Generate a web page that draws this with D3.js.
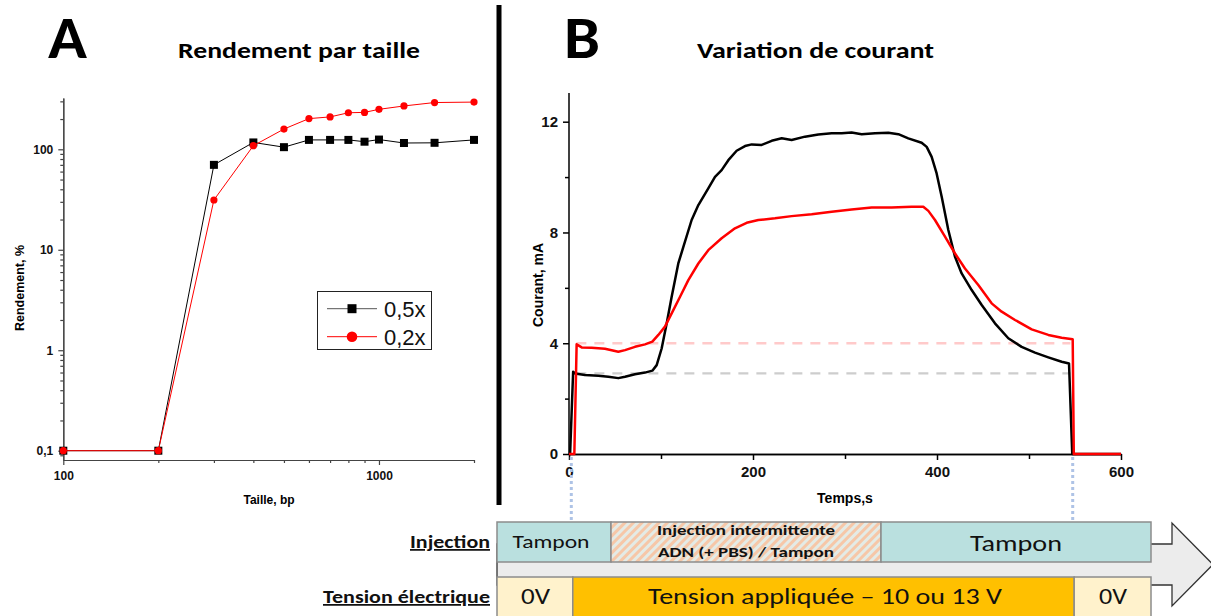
<!DOCTYPE html>
<html>
<head>
<meta charset="utf-8">
<script src="https://cdn.jsdelivr.net/npm/d3@7"></script>
<style>
  body { margin: 0; background: #fff; }
  svg { display: block; }
</style>
</head>
<body>
<svg id="fig" width="1211" height="616"></svg>
<script>
// ---------- Panel A : yield vs fragment size ----------
const sizesBp   = [100, 200, 300, 400, 500, 600, 700, 800, 900, 1000, 1200, 1500, 2000];
const yield05x  = [0.1, 0.1, 70, 117, 105, 124, 124, 124, 119, 125, 115.5, 116, 124];
const yield02x  = [0.1, 0.1, 31.3, 108.6, 159, 202, 210, 231, 233, 250, 270, 292, 295];
const seriesNames = ["0,5x", "0,2x"];
const yTickValsA   = [0.1, 1, 10, 100];
const yTickLabelsA = ["0,1", "1", "10", "100"];
const xTickValsA   = [100, 1000];

// ---------- Panel B : current over time ----------
const timeBlack = [0, 1.2, 4.5, 6.5, 17.4, 31.9, 42.8, 53.6, 60.9, 71.7, 82.6, 90.6, 95.3, 100.7, 106.2,
  111.6, 118.8, 124.3, 133.3, 140.6, 151.4, 158.7, 165.9, 173.2, 182.2, 191.3, 198.6, 209.4, 220.3, 231.2,
  242, 256.5, 271, 285.5, 296.4, 307.2, 318.1, 332.6, 347.1, 358, 368.8, 383.3, 388.8, 394.2, 399.6, 405.1,
  412.3, 419.6, 426.8, 437.7, 448.6, 463, 477.5, 492, 506.5, 521, 535.5, 543.5, 547, 600];
const currentBlack = [0, 0, 2.97, 2.91, 2.85, 2.83, 2.79, 2.74, 2.79, 2.88, 2.94, 3.01, 3.21, 3.81, 4.72,
  5.68, 6.88, 7.48, 8.45, 8.99, 9.59, 10.01, 10.25, 10.61, 10.95, 11.12, 11.18, 11.16, 11.31, 11.4,
  11.34, 11.46, 11.54, 11.58, 11.58, 11.61, 11.55, 11.58, 11.6, 11.55, 11.4, 11.24, 11.09, 10.73, 10.13, 9.29,
  8.09, 7.12, 6.52, 5.92, 5.38, 4.72, 4.18, 3.87, 3.66, 3.49, 3.33, 3.27, 0, 0];
const timeRed = [0, 5.8, 8.3, 13.8, 24.6, 39.1, 53.6, 60.9, 71.7, 82.6, 90.6, 97.1, 104.3, 111.6, 120.7,
  129.7, 140.6, 151.4, 165.9, 180.4, 193.1, 205.8, 223.9, 242, 263.8, 285.5, 307.2, 329, 350.7, 372.5,
  385.1, 390.6, 397.8, 408.7, 419.6, 430.4, 444.9, 459.4, 470.3, 484.8, 502.9, 521, 535.5, 547.5, 548.7, 600];
const currentRed = [0, 0, 3.96, 3.85, 3.84, 3.8, 3.69, 3.75, 3.87, 3.96, 4.06, 4.3, 4.6, 5.08, 5.68,
  6.28, 6.88, 7.36, 7.79, 8.15, 8.35, 8.45, 8.51, 8.59, 8.66, 8.75, 8.83, 8.9, 8.9, 8.93,
  8.93, 8.78, 8.45, 7.85, 7.24, 6.7, 6.1, 5.44, 5.14, 4.84, 4.5, 4.3, 4.2, 4.14, 0, 0];
const baselineCurrent = [2.91, 4.0];      // black / red reference levels
const baselineSpan    = [8, 545];         // s
const voltageWindow   = [2.5, 547.5];     // s, voltage on / off
const xTickValsB = [0, 200, 400, 600];
const yTickValsB = [0, 4, 8, 12];

// ---------- Timeline ----------
const rowLabels        = ["Injection", "Tension électrique"];
const injectionLabels  = ["Tampon", "Injection intermittente|ADN (+ PBS) / Tampon", "Tampon"];
const tensionLabels    = ["0V", "Tension appliquée – 10 ou 13 V", "0V"];

const svg = d3.select("#fig");
const arial = "'Liberation Sans', Arial, sans-serif";
const calibri = "Carlito, Lato, 'Open Sans', sans-serif";

// hatch pattern for the intermittent-injection block
const defs = svg.append("defs");
const pat = defs.append("pattern").attr("id", "hatch").attr("patternUnits", "userSpaceOnUse")
  .attr("width", 6).attr("height", 6).attr("patternTransform", "rotate(45)");
pat.append("rect").attr("width", 6).attr("height", 6).attr("fill", "#e4ebe6");
pat.append("rect").attr("width", 3).attr("height", 6).attr("fill", "#f6c7a8");

// ---------- Titles & separator ----------
function fitText(sel, len) { return sel.attr("textLength", len).attr("lengthAdjust", "spacingAndGlyphs"); }

fitText(svg.append("text").attr("x", 48).attr("y", 58).attr("font-family", calibri)
  .attr("font-weight", 700).attr("font-size", 60).text("A"), 39);
fitText(svg.append("text").attr("x", 178).attr("y", 58).attr("font-family", calibri)
  .attr("font-weight", 700).attr("font-size", 22).text("Rendement par taille"), 242);
fitText(svg.append("text").attr("x", 564).attr("y", 58).attr("font-family", calibri)
  .attr("font-weight", 700).attr("font-size", 60).text("B"), 36);
fitText(svg.append("text").attr("x", 697).attr("y", 58).attr("font-family", calibri)
  .attr("font-weight", 700).attr("font-size", 22).text("Variation de courant"), 237);

svg.append("line").attr("x1", 499).attr("x2", 499).attr("y1", 5).attr("y2", 505)
  .attr("stroke", "#000").attr("stroke-width", 5);

// ---------- Panel A ----------
const xA = d3.scaleLog().domain([100, 2000]).range([63.3, 474]);
const yA = d3.scaleLog().domain([0.0808, 324]).range([460, 98]);
const gA = svg.append("g");

const minorY = [];
for (const dec of [0.01, 0.1, 1, 10, 100]) for (let k = 2; k <= 9; k++) {
  const v = dec * k; if (v >= 0.0808 && v <= 324) minorY.push(v);
}
const minorX = [];
for (const dec of [100, 1000]) for (let k = 2; k <= 9; k++) {
  const v = dec * k; if (v <= 2000) minorX.push(v);
}

function styleAxis(g, color, width, fs) {
  g.selectAll("path, line").attr("stroke", color).attr("stroke-width", width);
  g.selectAll("text").attr("font-family", arial).attr("font-weight", 700)
    .attr("font-size", fs).attr("fill", "#111");
}

gA.append("g").attr("transform", "translate(63.3,0)")
  .call(d3.axisLeft(yA).tickValues(minorY).tickSize(3).tickSizeOuter(0).tickFormat(""))
  .call(g => styleAxis(g, "#444", 1.2, 12));
gA.append("g").attr("transform", "translate(63.3,0)")
  .call(d3.axisLeft(yA).tickValues(yTickValsA).tickSize(5).tickSizeOuter(0).tickPadding(5)
    .tickFormat((d, i) => yTickLabelsA[i]))
  .call(g => styleAxis(g, "#444", 1.2, 12));
gA.append("g").attr("transform", "translate(0,460)")
  .call(d3.axisBottom(xA).tickValues(minorX).tickSize(3).tickSizeOuter(0).tickFormat(""))
  .call(g => styleAxis(g, "#444", 1.2, 12));
gA.append("g").attr("transform", "translate(0,460)")
  .call(d3.axisBottom(xA).tickValues(xTickValsA).tickSize(5).tickSizeOuter(0).tickPadding(6)
    .tickFormat(d3.format("d")))
  .call(g => styleAxis(g, "#444", 1.2, 12));

gA.append("text").attr("x", 269).attr("y", 504).attr("text-anchor", "middle")
  .attr("font-family", arial).attr("font-weight", 700).attr("font-size", 12).text("Taille, bp");
gA.append("text").attr("transform", "translate(24,288) rotate(-90)").attr("text-anchor", "middle")
  .attr("font-family", arial).attr("font-weight", 700).attr("font-size", 12.5).text("Rendement, %");

const lineA = d3.line().x(d => xA(d[0])).y(d => yA(d[1]));
const blackPts = sizesBp.map((s, i) => [s, yield05x[i]]);
const redPts   = sizesBp.map((s, i) => [s, yield02x[i]]);

gA.append("path").datum(blackPts).attr("d", lineA).attr("fill", "none").attr("stroke", "#000").attr("stroke-width", 1);
gA.selectAll(".sq").data(blackPts).enter().append("rect")
  .attr("x", d => xA(d[0]) - 4).attr("y", d => yA(d[1]) - 4).attr("width", 8).attr("height", 8).attr("fill", "#000");
gA.append("path").datum(redPts).attr("d", lineA).attr("fill", "none").attr("stroke", "#ff0000").attr("stroke-width", 1);
gA.selectAll(".dot").data(redPts).enter().append("circle")
  .attr("cx", d => xA(d[0])).attr("cy", d => yA(d[1])).attr("r", 3.6).attr("fill", "#ff0000");

// legend
const leg = gA.append("g");
leg.append("rect").attr("x", 317.5).attr("y", 291.5).attr("width", 114).attr("height", 58)
  .attr("fill", "#fff").attr("stroke", "#222").attr("stroke-width", 1);
[["#000", "sq"], ["#ff0000", "dot"]].forEach(([c, m], i) => {
  const cy = 308.7 + i * 28;
  leg.append("line").attr("x1", 327).attr("x2", 377).attr("y1", cy).attr("y2", cy)
    .attr("stroke", i === 0 ? "#555" : "#ff0000").attr("stroke-width", 1);
  if (m === "sq") leg.append("rect").attr("x", 347.5).attr("y", cy - 4.5).attr("width", 9).attr("height", 9).attr("fill", c);
  else leg.append("circle").attr("cx", 352).attr("cy", cy).attr("r", 5.3).attr("fill", c);
  leg.append("text").attr("x", 384).attr("y", cy + 8).attr("font-family", arial)
    .attr("font-size", 22).attr("fill", "#111").text(seriesNames[i]);
});

// ---------- Panel B ----------
const xB = d3.scaleLinear().domain([0, 600]).range([569, 1121]);
const yB = d3.scaleLinear().domain([0, 12]).range([454, 121.7]);
const yTopB = 93;
const gB = svg.append("g");

gB.append("g").attr("transform", "translate(569,0)")
  .call(d3.axisLeft(yB).tickValues([2, 6, 10]).tickSize(4).tickSizeOuter(0).tickFormat(""))
  .call(g => g.select(".domain").remove())
  .call(g => styleAxis(g, "#000", 1.5, 15));
gB.append("g").attr("transform", "translate(569,0)")
  .call(d3.axisLeft(yB).tickValues(yTickValsB).tickSize(6).tickSizeOuter(0).tickPadding(5))
  .call(g => g.select(".domain").remove())
  .call(g => styleAxis(g, "#000", 1.5, 15));
gB.append("line").attr("x1", 569).attr("x2", 569).attr("y1", yTopB).attr("y2", 454)
  .attr("stroke", "#000").attr("stroke-width", 1.5);
gB.append("g").attr("transform", "translate(0,454)")
  .call(d3.axisBottom(xB).tickValues([100, 300, 500]).tickSize(5).tickSizeOuter(0).tickFormat(""))
  .call(g => styleAxis(g, "#000", 1.5, 15));
gB.append("g").attr("transform", "translate(0,454)")
  .call(d3.axisBottom(xB).tickValues(xTickValsB).tickSize(6).tickSizeOuter(0).tickPadding(6))
  .call(g => styleAxis(g, "#000", 1.5, 15));

gB.append("text").attr("x", 845).attr("y", 503).attr("text-anchor", "middle")
  .attr("font-family", arial).attr("font-weight", 700).attr("font-size", 14).text("Temps,s");
gB.append("text").attr("transform", "translate(543,285) rotate(-90)").attr("text-anchor", "middle")
  .attr("font-family", arial).attr("font-weight", 700).attr("font-size", 14).text("Courant, mA");

// reference levels (dashed)
[["#cdcdcd", baselineCurrent[0]], ["#ffcaca", baselineCurrent[1]]].forEach(([c, v]) => {
  gB.append("line").attr("x1", xB(baselineSpan[0])).attr("x2", xB(baselineSpan[1]))
    .attr("y1", yB(v)).attr("y2", yB(v)).attr("stroke", c).attr("stroke-width", 2.3)
    .attr("stroke-dasharray", "10,8");
});

const lineB = d3.line().x(d => xB(d[0])).y(d => yB(d[1]));
gB.append("path").datum(timeBlack.map((t, i) => [t, currentBlack[i]])).attr("d", lineB)
  .attr("fill", "none").attr("stroke", "#000").attr("stroke-width", 2.5).attr("stroke-linejoin", "round");
gB.append("path").datum(timeRed.map((t, i) => [t, currentRed[i]])).attr("d", lineB)
  .attr("fill", "none").attr("stroke", "#ff0000").attr("stroke-width", 2.5).attr("stroke-linejoin", "round");

// dotted guides linking voltage on/off to the timeline
voltageWindow.forEach(t => {
  gB.append("line").attr("x1", xB(t)).attr("x2", xB(t)).attr("y1", 457).attr("y2", 521)
    .attr("stroke", "#aec3e6").attr("stroke-width", 3).attr("stroke-dasharray", "3,3");
});

// ---------- Timeline ----------
const gT = svg.append("g");
const L = 497, R = 1151, arrowBase = 1172, tipX = 1213, cy = 564.5;
gT.append("polygon")
  .attr("points", [[L, cy - 20.5], [arrowBase, cy - 20.5], [arrowBase, cy - 41.5], [tipX, cy],
                   [arrowBase, cy + 41.5], [arrowBase, cy + 20.5], [L, cy + 20.5]].map(p => p.join(",")).join(" "))
  .attr("fill", "#ececec").attr("stroke", "#333").attr("stroke-width", 1.3);

const injEdges = [L, 611, 881, R];
const injFills = ["#bae0df", "url(#hatch)", "#bae0df"];
const tenEdges = [L, xB(voltageWindow[0]) + 1.5, xB(voltageWindow[1]) + 1.5, R];
const tenFills = ["#fff2cc", "#ffc000", "#fff2cc"];

injectionLabels.forEach((lab, i) => {
  gT.append("rect").attr("x", injEdges[i]).attr("y", 522).attr("width", injEdges[i + 1] - injEdges[i])
    .attr("height", 40).attr("fill", injFills[i]).attr("stroke", "#8c8c8c").attr("stroke-width", 1.5);
});
tensionLabels.forEach((lab, i) => {
  gT.append("rect").attr("x", tenEdges[i]).attr("y", 577).attr("width", tenEdges[i + 1] - tenEdges[i])
    .attr("height", 45).attr("fill", tenFills[i]).attr("stroke", "#8c8c8c").attr("stroke-width", 1.5);
});

function tLabel(x, y, txt, fs, len, bold) {
  const t = gT.append("text").attr("x", x).attr("y", y).attr("text-anchor", "middle")
    .attr("font-family", calibri).attr("font-size", fs).attr("font-weight", bold ? 700 : 400)
    .attr("fill", "#111").text(txt);
  fitText(t, len);
}
tLabel(551, 548, injectionLabels[0], 19, 77, false);
const mid = injectionLabels[1].split("|");
tLabel(746, 535, mid[0], 13.5, 178, true);
tLabel(746, 557, mid[1], 13.5, 176, true);
tLabel(1016, 551, injectionLabels[2], 23, 92, false);
tLabel(535.5, 604, tensionLabels[0], 23, 29, false);
tLabel(825, 604, tensionLabels[1], 23, 354, false);
tLabel(1113, 604, tensionLabels[2], 23, 28, false);

[[548, 80], [603, 167]].forEach(([y, len], i) => {
  fitText(gT.append("text").attr("x", 490).attr("y", y).attr("text-anchor", "end")
    .attr("font-family", calibri).attr("font-weight", 700).attr("font-size", 17.5)
    .attr("text-decoration", "underline").attr("fill", "#111").text(rowLabels[i]), len);
});
</script>
</body>
</html>
